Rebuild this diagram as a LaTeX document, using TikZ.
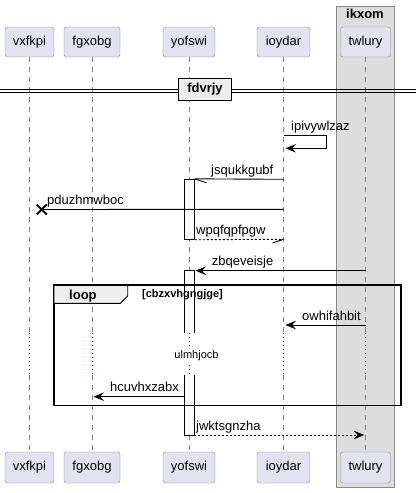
\documentclass[tikz,border=0pt]{standalone}
\usepackage{fontspec}
\setmainfont{Liberation Sans}
\usetikzlibrary{arrows.meta,calc}
\definecolor{partfill}{HTML}{E2E2F0}
\definecolor{partdraw}{HTML}{8A8A8A}
\definecolor{boxfill}{HTML}{DDDDDD}
\definecolor{boxdraw}{HTML}{8A8A8A}
\definecolor{lifegray}{HTML}{808080}
\definecolor{tabfill}{HTML}{EEEEEE}
\definecolor{delayred}{HTML}{A80036}
\begin{document}
\begin{tikzpicture}[x=1pt,y=-1pt,
  part/.style={draw=partdraw, fill=partfill, rounded corners=2.5pt, minimum height=30pt, inner sep=0pt, font=\fontsize{13}{15}\selectfont},
  lifeline/.style={draw=lifegray, line width=0.7pt, dash pattern=on 5pt off 5pt},
  delayline/.style={draw=delayred, line width=0.8pt, dash pattern=on 1pt off 3pt},
  msg/.style={font=\fontsize{13}{15}\selectfont, anchor=base west, inner sep=0pt},
  msgline/.style={draw=black, line width=0.9pt},
  dmsgline/.style={draw=black, line width=0.9pt, dash pattern=on 2pt off 2pt},
  head/.style={-{Stealth[length=10.5pt,width=8.5pt,inset=4pt]}},
  actbox/.style={draw=black, fill=white, line width=0.9pt, minimum width=9.6pt, inner sep=0pt}
]
\useasboundingbox (0,0) rectangle (416,493);
% group box
\draw[fill=boxfill, draw=boxdraw, line width=0.9pt] (336,6) rectangle (394,487.7);
\node[font=\bfseries\fontsize{13}{15}\selectfont, anchor=base, inner sep=0pt] (grp) at (365,18.5) {ikxom};
% participants
\node[part, minimum width=49pt] (p1t) at (29.5,42) {vxfkpi};
\node[part, minimum width=56pt] (p2t) at (92,42) {fgxobg};
\node[part, minimum width=52pt] (p3t) at (189,42) {yofswi};
\node[part, minimum width=53pt] (p4t) at (283.5,42) {ioydar};
\node[part, minimum width=50pt] (p5t) at (365.5,42) {twlury};
\node[part, minimum width=49pt, minimum height=31pt] (p1b) at (29.5,467.5) {vxfkpi};
\node[part, minimum width=56pt, minimum height=31pt] (p2b) at (92,467.5) {fgxobg};
\node[part, minimum width=52pt, minimum height=31pt] (p3b) at (189,467.5) {yofswi};
\node[part, minimum width=53pt, minimum height=31pt] (p4b) at (283.5,467.5) {ioydar};
\node[part, minimum width=50pt, minimum height=31pt] (p5b) at (365.5,467.5) {twlury};
% delay bounds
\coordinate (dtop) at (0,333);
\coordinate (dbot) at (0,375);
% lifelines
\foreach \p in {p1,p2,p3,p4,p5}{
  \draw[lifeline] (\p t.south) -- (\p t.south |- dtop);
  \draw[lifeline] (\p b.north |- dbot) -- (\p b.north);
  \draw[delayline] (\p t.south |- dtop) -- (\p t.south |- dbot);
}
% divider
\draw[line width=0.9pt] (0,89.3) -- (416,89.3) (0,92.3) -- (416,92.3);
\node[draw=black, fill=tabfill, line width=1.8pt, minimum width=53pt, minimum height=22pt, inner sep=0pt, font=\bfseries\fontsize{13}{15}\selectfont] (div) at (205,89.5) {fdvrjy};
% activation 1
\node[actbox, minimum height=60pt] (act1) at (189.5,209.3) {};
% activation 2 (broken by delay)
\coordinate (a2tl) at (184.7,270.7);
\coordinate (a2tr) at (194.3,270.7);
\coordinate (a2bl) at (184.7,435);
\coordinate (a2br) at (194.3,435);
\fill[white] (a2tl) rectangle (194.3,333);
\fill[white] (184.7,375) rectangle (a2br);
\draw[line width=0.9pt] (a2tl |- dtop) -- (a2tl) -- (a2tr) -- (a2tr |- dtop);
\draw[line width=0.9pt] (a2bl |- dbot) -- (a2bl) -- (a2br) -- (a2br |- dbot);
\draw[delayline] (189.5,333) -- (189.5,375);
\node[fill=white, inner sep=1.5pt, font=\fontsize{11}{13}\selectfont] (delay) at (196.5,356) {ulmhjocb};
% message 1: self
\coordinate (s1a) at (283.5,135.3);
\coordinate (s1b) at (326,135.3);
\coordinate (s1c) at (326,148.3);
\coordinate (s1d) at (285.5,148.3);
\draw[msgline, head] (s1a) -- (s1b) -- (s1c) -- (s1d);
\node[msg] (l1) at (291,130.5) {ipivywlzaz};
% message 2
\coordinate (m2s) at (283.5,179.3);
\draw[msgline] (m2s) -- (act1.north east);
\draw[msgline] (act1.north east) -- ++(11.7,4);
\node[msg] (l2) at (211,174) {jsqukkgubf};
% message 3 lost
\coordinate (m3s) at (283.5,209.3);
\coordinate (m3x) at (41.8,209.5);
\draw[msgline] (m3s) -- (m3x);
\draw[line width=2pt] ($(m3x)+(-5,-5)$) -- ($(m3x)+(5,5)$);
\draw[line width=2pt] ($(m3x)+(-5,5)$) -- ($(m3x)+(5,-5)$);
\node[msg] (l3) at (47,204) {pduzhmwboc};
% message 4 dashed return
\coordinate (m4e) at (283.5,239.3);
\draw[dmsgline] (act1.south east) -- (m4e);
\draw[msgline] (m4e) -- ++(-10.8,3.6);
\node[msg] (l4) at (196,234) {wpqfqpfpgw};
% message 5
\coordinate (m5s) at (365.5,270.7);
\coordinate (m5e) at (195.5,270.7);
\draw[msgline, head] (m5s) -- (m5e);
\node[msg] (l5) at (211.7,265.7) {zbqeveisje};
% loop frame
\draw[line width=1.6pt] (54,285) rectangle (401,405.3);
\draw[fill=tabfill, line width=0.9pt] (54,285) -- (127.7,285) -- (127.7,296) -- (120.5,303.3) -- (54,303.3) -- cycle;
\draw[line width=1.6pt] (54,285) -- (127.7,285);
\node[msg, font=\bfseries\fontsize{13}{15}\selectfont] (loopl) at (69,299) {loop};
\node[msg, font=\bfseries\fontsize{11}{13}\selectfont] (cond) at (142,297.5) {[cbzxvhgngjge]};
% message 6
\coordinate (m6s) at (365.5,325);
\coordinate (m6e) at (285.5,325);
\draw[msgline, head] (m6s) -- (m6e);
\node[msg] (l6) at (302,320) {owhifahbit};
% message 7
\coordinate (m7s) at (184.7,396.7);
\coordinate (m7e) at (93.5,396.7);
\draw[msgline, head] (m7s) -- (m7e);
\node[msg] (l7) at (110,391.7) {hcuvhxzabx};
% message 8
\coordinate (m8e) at (364.3,435);
\draw[dmsgline, head] (a2br) -- (m8e);
\node[msg] (l8) at (196,430) {jwktsgnzha};
\end{tikzpicture}
\end{document}
